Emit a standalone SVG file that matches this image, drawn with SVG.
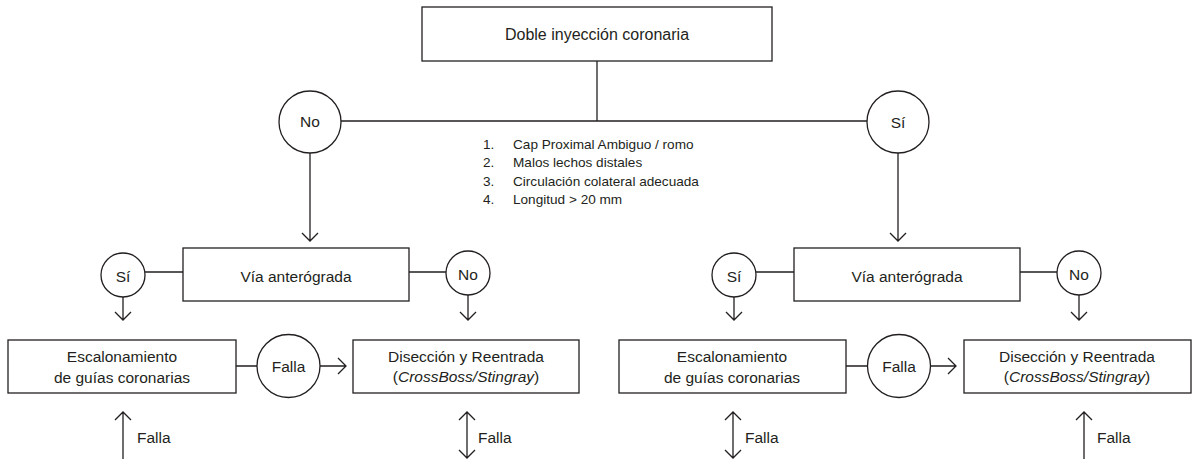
<svg xmlns="http://www.w3.org/2000/svg" width="1196" height="459" viewBox="0 0 1196 459">
<style>
.bx{fill:#fff;stroke:#231f20;stroke-width:1.3}
.ln{fill:none;stroke:#231f20;stroke-width:1.3}
.t{font-family:"Liberation Sans",Arial,sans-serif;font-size:15.5px;fill:#231f20;text-anchor:middle}
.s{font-family:"Liberation Sans",Arial,sans-serif;font-size:13.6px;fill:#231f20}
.f{font-family:"Liberation Sans",Arial,sans-serif;font-size:15.5px;fill:#231f20}
</style>
<rect width="1196" height="459" fill="#fff"/>
<g id="connectors" class="ln">
<path d="M597 61V121M341 121H867"/>
<path d="M310 153V241M302 233L310 241L318 233"/>
<path d="M898 153V241M890 233L898 241L906 233"/>
<path d="M145 272H183M409 272H446M756 272H794M1020 272H1057"/>
<path d="M123 297V320M115 312L123 320L131 312"/>
<path d="M468 295V320M460 312L468 320L476 312"/>
<path d="M734 297V320M726 312L734 320L742 312"/>
<path d="M1079 295V320M1071 312L1079 320L1087 312"/>
<path d="M236 366H257M320 366H346M338 358L346 366L338 374"/>
<path d="M846 366H868M930 366H956M948 358L956 366L948 374"/>
<path d="M123 459V412M115 420L123 412L131 420"/>
<path d="M467 412V458M459 420L467 412L475 420M459 450L467 458L475 450"/>
<path d="M733 412V458M725 420L733 412L741 420M725 450L733 458L741 450"/>
<path d="M1084 459V412M1076 420L1084 412L1092 420"/>
</g>
<g id="n-top"><rect class="bx" x="422" y="7" width="350" height="54"/><text class="t" x="597" y="40" style="font-size:16px">Doble inyección coronaria</text></g>
<g id="n-no-top"><circle class="bx" cx="310" cy="122" r="31"/><text class="t" x="310" y="127">No</text></g>
<g id="n-si-top"><circle class="bx" cx="898" cy="122" r="31"/><text class="t" x="898" y="128">Sí</text></g>
<g id="criteria">
<text class="s" x="483" y="149">1.</text><text class="s" x="513" y="149">Cap Proximal Ambiguo / romo</text>
<text class="s" x="483" y="167">2.</text><text class="s" x="513" y="167">Malos lechos distales</text>
<text class="s" x="483" y="186">3.</text><text class="s" x="513" y="186">Circulación colateral adecuada</text>
<text class="s" x="483" y="204">4.</text><text class="s" x="513" y="204">Longitud &gt; 20 mm</text>
</g>
<g id="n-via-l"><rect class="bx" x="183" y="248" width="226" height="53"/><text class="t" x="296" y="282">Vía anterógrada</text></g>
<g id="n-si-l"><circle class="bx" cx="123" cy="275" r="22"/><text class="t" x="123" y="282">Sí</text></g>
<g id="n-no-l"><circle class="bx" cx="468" cy="273" r="22"/><text class="t" x="468" y="280">No</text></g>
<g id="n-esc-l"><rect class="bx" x="8" y="340" width="228" height="53"/><text class="t" x="122" y="362">Escalonamiento</text><text class="t" x="122" y="383">de guías coronarias</text></g>
<g id="n-falla-l"><circle class="bx" cx="288.5" cy="366" r="31.5"/><text class="t" x="288.5" y="372">Falla</text></g>
<g id="n-dis-l"><rect class="bx" x="353" y="340" width="226" height="53"/><text class="t" x="466" y="362">Disección y Reentrada</text><text class="t" x="466" y="382">(<tspan font-style="italic">CrossBoss/Stingray</tspan>)</text></g>
<g id="n-via-r"><rect class="bx" x="794" y="248" width="226" height="53"/><text class="t" x="907" y="282">Vía anterógrada</text></g>
<g id="n-si-r"><circle class="bx" cx="734" cy="275" r="22"/><text class="t" x="734" y="282">Sí</text></g>
<g id="n-no-r"><circle class="bx" cx="1079" cy="273" r="22"/><text class="t" x="1079" y="280">No</text></g>
<g id="n-esc-r"><rect class="bx" x="619" y="340" width="227" height="53"/><text class="t" x="732" y="362">Escalonamiento</text><text class="t" x="732" y="383">de guías coronarias</text></g>
<g id="n-falla-r"><circle class="bx" cx="899" cy="366" r="31.5"/><text class="t" x="899" y="372">Falla</text></g>
<g id="n-dis-r"><rect class="bx" x="964" y="340" width="227" height="53"/><text class="t" x="1077" y="362">Disección y Reentrada</text><text class="t" x="1077" y="382">(<tspan font-style="italic">CrossBoss/Stingray</tspan>)</text></g>
<g id="labels">
<text class="f" x="137" y="443">Falla</text>
<text class="f" x="478" y="443">Falla</text>
<text class="f" x="745" y="443">Falla</text>
<text class="f" x="1097" y="443">Falla</text>
</g>
</svg>
